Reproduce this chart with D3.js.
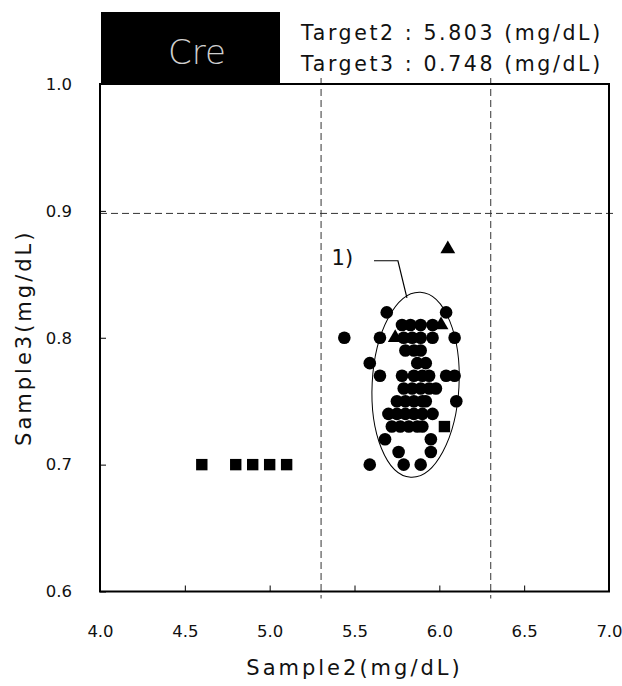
<!DOCTYPE html>
<html>
<head>
<meta charset="utf-8">
<script src="https://cdn.jsdelivr.net/npm/d3@7"></script>
<style>
  body { margin: 0; background: #fff; }
  svg text { font-family: "DejaVu Sans", sans-serif; fill: #111; }
</style>
</head>
<body>
<svg id="chart" width="622" height="686"></svg>
<script>
  // targets and allowed ranges
  var target2 = 5.803;
  var target3 = 0.748;
  var limit2 = 0.5;
  var limit3 = 0.15;

  var xTicks = [4.0, 4.5, 5.0, 5.5, 6.0, 6.5, 7.0];
  var yTicks = [0.6, 0.7, 0.8, 0.9, 1.0];

  // samples, [sample2, sample3]
  var circlePoints = [
    [5.69, 0.82], [6.04, 0.82],
    [5.78, 0.81], [5.83, 0.81], [5.89, 0.81], [5.96, 0.81],
    [5.44, 0.80], [5.65, 0.80], [5.79, 0.80], [5.84, 0.80], [5.89, 0.80], [5.96, 0.80], [6.09, 0.80],
    [5.80, 0.79], [5.85, 0.79], [5.89, 0.79],
    [5.59, 0.78], [5.87, 0.78], [5.92, 0.78],
    [5.65, 0.77], [5.78, 0.77], [5.85, 0.77], [5.90, 0.77], [5.94, 0.77], [6.04, 0.77], [6.09, 0.77],
    [5.79, 0.76], [5.84, 0.76], [5.89, 0.76], [5.94, 0.76], [5.98, 0.76],
    [5.75, 0.75], [5.80, 0.75], [5.85, 0.75], [5.90, 0.75], [5.92, 0.75], [6.10, 0.75],
    [5.70, 0.74], [5.75, 0.74], [5.80, 0.74], [5.85, 0.74], [5.90, 0.74], [5.96, 0.74],
    [5.72, 0.73], [5.77, 0.73], [5.82, 0.73], [5.87, 0.73], [5.90, 0.73],
    [5.68, 0.72], [5.95, 0.72],
    [5.76, 0.71], [5.95, 0.71],
    [5.59, 0.70], [5.79, 0.70], [5.89, 0.70]
  ];
  var squarePoints = [
    [4.6, 0.70], [4.8, 0.70], [4.9, 0.70], [5.0, 0.70], [5.1, 0.70], [6.03, 0.73]
  ];
  var trianglePoints = [
    [6.05, 0.87], [5.74, 0.80], [6.01, 0.81]
  ];

  // ellipse 1): centre, radii, tilt
  var ellipseCenter = [5.86, 0.763];
  var ellipseRadii = [0.256, 0.073];
  var ellipseTilt = 3;
  var leader = [[5.615, 0.8607], [5.756, 0.8607], [5.809, 0.8315]];
  var leaderLabel = [5.365, 0.857];

(function() {
  var svg = d3.select('#chart');
  var pLeft = 100, pRight = 609, pTop = 84, pBottom = 591.5;

  var x = d3.scaleLinear().domain([4, 7]).range([pLeft, pRight]);
  var y = d3.scaleLinear().domain([0.6, 1.0]).range([pBottom, pTop]);

  // header box
  svg.append('rect')
    .attr('x', 101).attr('y', 12)
    .attr('width', 179).attr('height', pTop - 12)
    .attr('fill', '#000');
  svg.append('text')
    .attr('x', 197).attr('y', 64)
    .attr('text-anchor', 'middle')
    .style('font-size', '34px')
    .style('font-weight', '200')
    .style('fill', '#cfcfcf')
    .text('Cre');

  [['Target2 : ' + target2.toFixed(3) + ' (mg/dL)', 40],
   ['Target3 : ' + target3.toFixed(3) + ' (mg/dL)', 71]].forEach(function(t) {
    svg.append('text')
      .attr('x', 301).attr('y', t[1])
      .style('font-size', '20.5px')
      .style('letter-spacing', '2.6px')
      .text(t[0]);
  });

  // dashed limits
  var xLimits = [target2 - limit2, target2 + limit2].filter(function(v) { return v >= 4 && v <= 7; });
  var yLimits = [target3 - limit3, target3 + limit3].filter(function(v) { return v >= 0.6 && v <= 1.0; });

  svg.selectAll('.vlim').data(xLimits).enter().append('line')
    .attr('x1', x).attr('x2', x)
    .attr('y1', pTop - 6).attr('y2', pBottom + 7)
    .style('stroke', '#333').style('stroke-width', 1)
    .style('stroke-dasharray', '7,4');
  svg.selectAll('.hlim').data(yLimits).enter().append('line')
    .attr('x1', pLeft).attr('x2', pRight + 4)
    .attr('y1', y).attr('y2', y)
    .style('stroke', '#333').style('stroke-width', 1)
    .style('stroke-dasharray', '7,4');

  // axes
  var xAxis = svg.append('g')
    .attr('transform', 'translate(0,' + pBottom + ')')
    .call(d3.axisBottom(x).tickValues(xTicks).tickSize(-6).tickPadding(34)
      .tickFormat(d3.format('.1f')));
  var yAxis = svg.append('g')
    .attr('transform', 'translate(' + pLeft + ',0)')
    .call(d3.axisLeft(y).tickValues(yTicks).tickSize(-6).tickPadding(28)
      .tickFormat(d3.format('.1f')));
  [xAxis, yAxis].forEach(function(a) {
    a.select('.domain').remove();
    a.selectAll('line').style('stroke', '#000');
    a.selectAll('text').style('font-size', '16.5px')
      .style('font-family', '"DejaVu Sans", sans-serif').style('fill', '#111');
  });

  svg.append('rect')
    .attr('x', pLeft).attr('y', pTop)
    .attr('width', pRight - pLeft).attr('height', pBottom - pTop)
    .attr('fill', 'none').attr('stroke', '#000').attr('stroke-width', 2);

  // axis titles
  svg.append('text')
    .attr('x', (pLeft + pRight) / 2).attr('y', 675)
    .attr('text-anchor', 'middle')
    .style('font-size', '21px')
    .style('letter-spacing', '3px')
    .text('Sample2(mg/dL)');
  svg.append('text')
    .attr('transform', 'translate(31,' + (pTop + pBottom) / 2 + ') rotate(-90)')
    .attr('text-anchor', 'middle')
    .style('font-size', '21px')
    .style('letter-spacing', '3px')
    .text('Sample3(mg/dL)');

  // ellipse and its label
  var ex = x(ellipseCenter[0]), ey = y(ellipseCenter[1]);
  svg.append('ellipse')
    .attr('transform', 'translate(' + ex + ',' + ey + ') rotate(' + ellipseTilt + ')')
    .attr('rx', x(ellipseCenter[0] + ellipseRadii[0]) - ex)
    .attr('ry', ey - y(ellipseCenter[1] + ellipseRadii[1]))
    .attr('fill', 'none').attr('stroke', '#000').attr('stroke-width', 1);
  svg.append('path')
    .attr('d', d3.line().x(function(d) { return x(d[0]); }).y(function(d) { return y(d[1]); })(leader))
    .attr('fill', 'none').attr('stroke', '#000').attr('stroke-width', 1.2);
  svg.append('text')
    .attr('x', x(leaderLabel[0])).attr('y', y(leaderLabel[1]))
    .style('font-size', '21px')
    .text('1)');

  // markers
  svg.append('g').selectAll('circle').data(circlePoints).enter().append('circle')
    .attr('cx', function(d) { return x(d[0]); })
    .attr('cy', function(d) { return y(d[1]); })
    .attr('r', 6.3)
    .attr('fill', '#000');
  svg.append('g').selectAll('path').data(squarePoints).enter().append('path')
    .attr('transform', function(d) { return 'translate(' + x(d[0]) + ',' + y(d[1]) + ')'; })
    .attr('d', d3.symbol().type(d3.symbolSquare).size(130))
    .attr('fill', '#000');
  svg.append('g').selectAll('path').data(trianglePoints).enter().append('path')
    .attr('transform', function(d) { return 'translate(' + x(d[0]) + ',' + y(d[1]) + ')'; })
    .attr('d', d3.symbol().type(d3.symbolTriangle).size(95))
    .attr('fill', '#000');
})();
</script>
</body>
</html>
